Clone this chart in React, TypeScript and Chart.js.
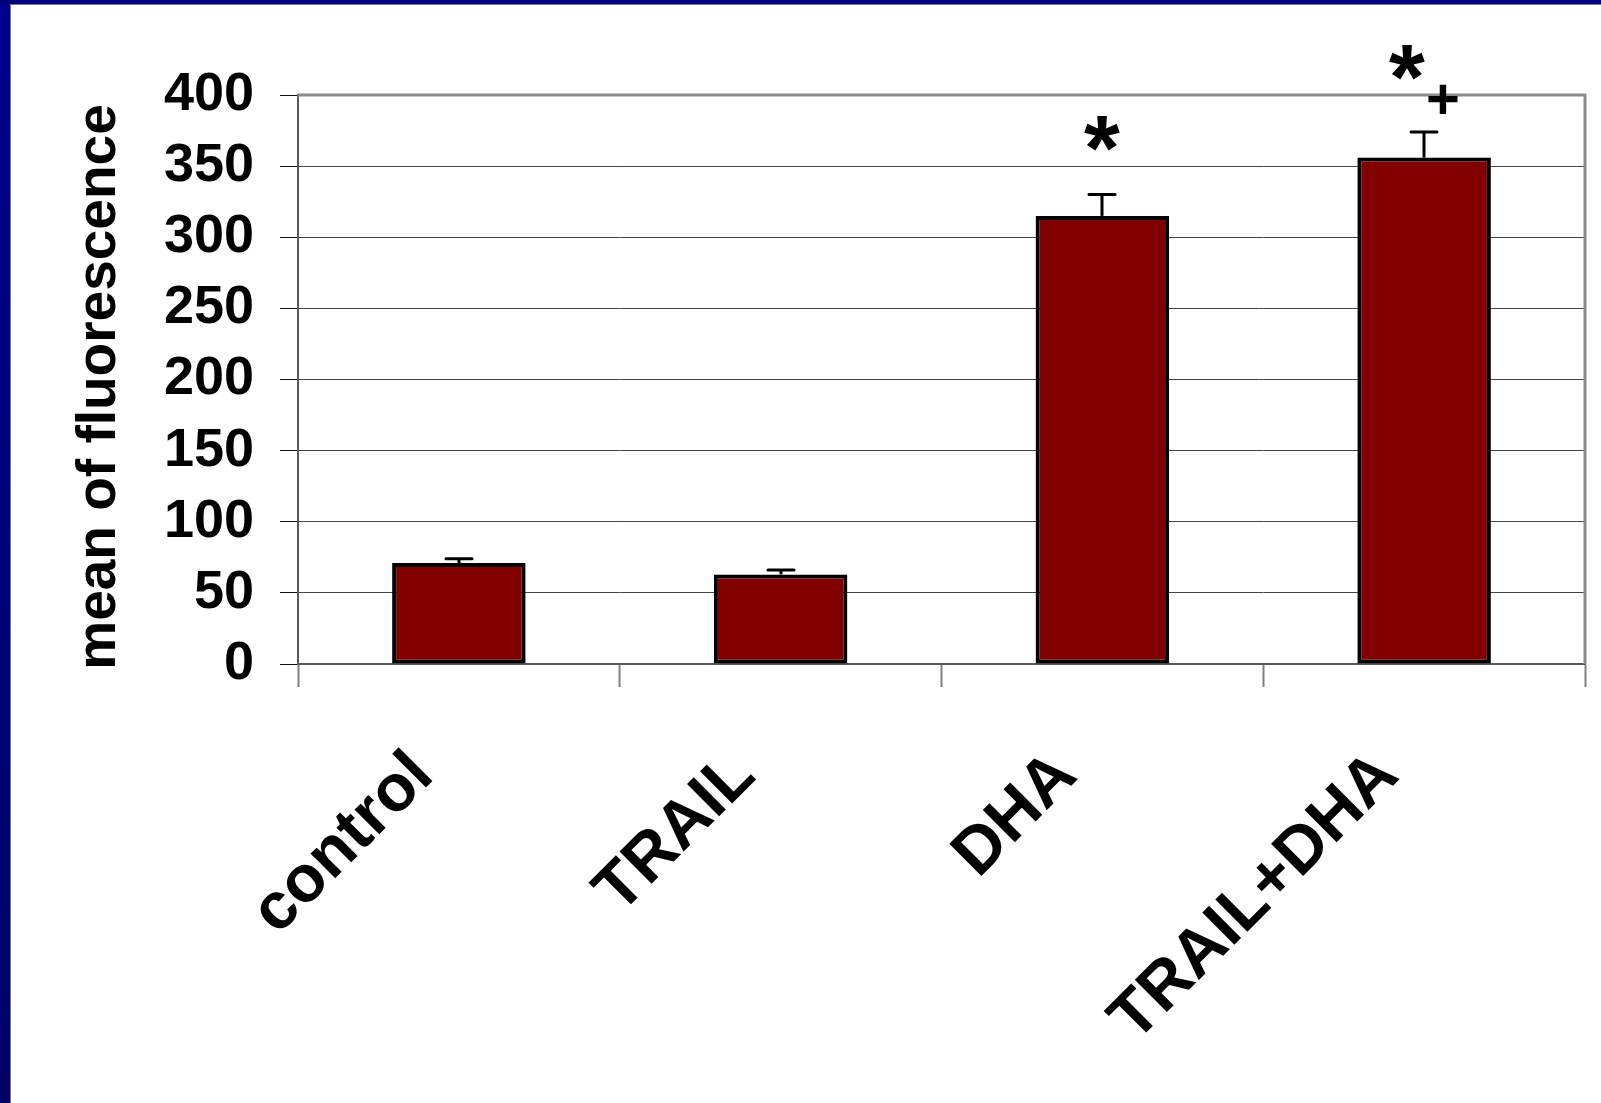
import React, { useEffect, useRef } from "react";
import { Chart, registerables } from "chart.js";

Chart.register(...registerables);

// ---- data ----
const categories = ["control", "TRAIL", "DHA", "TRAIL+DHA"];
const meanValues = [71, 63, 315, 356];
const errorValues = [3, 3, 15, 18];
const significanceMarks = [[], [], ["*"], ["*", "+"]];
const yMin = 0;
const yMax = 400;
const yStep = 50;
const yTitle = "mean of fluorescence";

const FONT = "'Liberation Sans', Arial, Helvetica, sans-serif";

const framePlugin = {
  id: "slideFrame",
  beforeDraw(chart: any) {
    const { ctx, width, height } = chart;
    ctx.save();
    ctx.fillStyle = "#ffffff";
    ctx.fillRect(0, 0, width, height);
    const g = ctx.createLinearGradient(0, 0, 0, height);
    g.addColorStop(0, "#00008c");
    g.addColorStop(1, "#000066");
    ctx.fillStyle = g;
    ctx.fillRect(0, 0, 10, height);
    ctx.fillStyle = "#00007f";
    ctx.fillRect(0, 0, width, 4);
    ctx.fillStyle = "#7a7a7a";
    ctx.fillRect(10, 4, 1, height - 4);
    ctx.fillRect(10, 4, width - 10, 1);
    ctx.restore();
  },
  beforeDatasetsDraw(chart: any) {
    const { ctx, chartArea } = chart;
    ctx.save();
    ctx.strokeStyle = "#8c8c8c";
    ctx.lineWidth = 3;
    ctx.beginPath();
    ctx.moveTo(chartArea.left, chartArea.top);
    ctx.lineTo(chartArea.right, chartArea.top);
    ctx.lineTo(chartArea.right, chartArea.bottom);
    ctx.stroke();
    // y axis title
    ctx.fillStyle = "#000";
    ctx.font = `bold 55px ${FONT}`;
    ctx.textAlign = "center";
    ctx.textBaseline = "middle";
    ctx.translate(100, 387);
    ctx.rotate(-Math.PI / 2);
    ctx.fillText(yTitle, 0, 0);
    ctx.restore();
  },
};

const markOffsets: Record<number, number[][]> = {
  1: [[0, -61]],
  2: [[-17, -69], [19, -33]],
};

function drawCenteredGlyph(ctx: any, text: string, cx: number, cy: number) {
  ctx.textAlign = "left";
  ctx.textBaseline = "alphabetic";
  const m = ctx.measureText(text);
  const w = m.actualBoundingBoxRight + m.actualBoundingBoxLeft;
  const x = cx - w / 2 + m.actualBoundingBoxLeft;
  const y = cy + (m.actualBoundingBoxAscent - m.actualBoundingBoxDescent) / 2;
  ctx.fillText(text, x, y);
}

const errorPlugin = {
  id: "errorBars",
  afterDatasetsDraw(chart: any) {
    const { ctx } = chart;
    const meta = chart.getDatasetMeta(0);
    const yScale = chart.scales.y;
    ctx.save();
    ctx.strokeStyle = "#000";
    ctx.fillStyle = "#000";
    ctx.lineWidth = 3;
    meta.data.forEach((bar: any, i: number) => {
      const x = Math.round(bar.x);
      const top = yScale.getPixelForValue(meanValues[i]);
      const errTop = yScale.getPixelForValue(meanValues[i] + errorValues[i]);
      ctx.lineCap = "butt";
      ctx.beginPath();
      ctx.moveTo(x, top);
      ctx.lineTo(x, errTop);
      ctx.stroke();
      ctx.lineCap = "round";
      ctx.beginPath();
      ctx.moveTo(x - 13, errTop);
      ctx.lineTo(x + 13, errTop);
      ctx.stroke();
      const marks = significanceMarks[i];
      const offs = markOffsets[marks.length] || [];
      marks.forEach((mk: string, j: number) => {
        const [dx, dy] = offs[j];
        ctx.font = mk === "*" ? `bold 92px ${FONT}` : `bold 58px ${FONT}`;
        drawCenteredGlyph(ctx, mk, x + dx, errTop + dy);
      });
    });
    ctx.restore();
  },
};

export default function App() {
  const ref = useRef<HTMLCanvasElement | null>(null);

  useEffect(() => {
    if (!ref.current) return;
    const chart = new Chart(ref.current, {
      type: "bar",
      data: {
        labels: categories,
        datasets: [
          {
            data: meanValues,
            backgroundColor: "#800000",
            borderColor: "#000000",
            borderWidth: 4,
            borderSkipped: false,
            inflateAmount: 0,
            barPercentage: 0.415,
            categoryPercentage: 1,
          },
        ],
      },
      options: {
        responsive: false,
        animation: false,
        devicePixelRatio: 1,
        layout: { padding: { left: 10, top: 95, right: 16, bottom: 0 } },
        plugins: {
          legend: { display: false },
          tooltip: { enabled: false },
          title: { display: false },
        },
        scales: {
          x: {
            grid: {
              display: true,
              offset: true,
              drawOnChartArea: false,
              drawTicks: true,
              tickLength: 23,
              tickColor: "#808080",
              tickWidth: 2,
            },
            border: { display: true, color: "#5a5a5a", width: 2 },
            ticks: {
              autoSkip: false,
              maxRotation: 45,
              minRotation: 45,
              padding: 50,
              labelOffset: -36,
              color: "#000",
              font: { family: FONT, weight: "bold", size: 66 },
            },
            afterFit(scale: any) {
              scale.height = 439;
            },
          },
          y: {
            min: yMin,
            max: yMax,
            ticks: {
              stepSize: yStep,
              padding: 26,
              color: "#000",
              font: { family: FONT, weight: "bold", size: 54 },
            },
            grid: {
              color: "#444444",
              lineWidth: 1,
              tickLength: 18,
              tickColor: "#111111",
              tickWidth: 1,
            },
            border: { display: true, color: "#5a5a5a", width: 2 },
            title: { display: false },
            afterFit(scale: any) {
              scale.width = 288;
            },
          },
        },
      },
      plugins: [framePlugin, errorPlugin],
    } as any);
    return () => chart.destroy();
  }, []);

  return (
    <div style={{ position: "absolute", left: 0, top: 0, width: 1601, height: 1103 }}>
      <canvas ref={ref} width={1601} height={1103} style={{ display: "block" }} />
    </div>
  );
}
